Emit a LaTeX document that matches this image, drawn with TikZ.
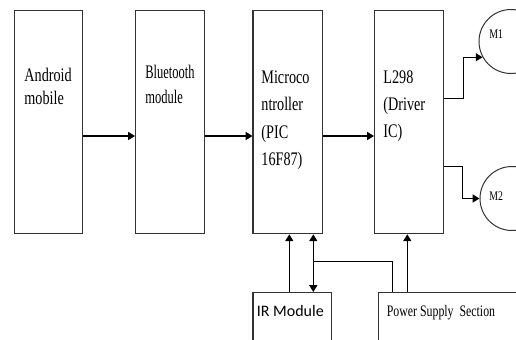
\documentclass[tikz,border=0pt]{standalone}
\usepackage{fontspec}
\setmainfont{Liberation Serif}[FakeStretch=0.74]
\newfontfamily\narrowfont{Liberation Serif}[FakeStretch=0.65]
\newfontfamily\irfont{Carlito}
\usetikzlibrary{arrows.meta,calc}

\begin{document}
\begin{tikzpicture}[x=0.5pt,y=-0.5pt,
  blockbox/.style={draw=black!80,line width=0.65pt,anchor=north west,inner sep=0pt,minimum height=111.5pt},
  blocktext/.style={anchor=north west,inner sep=0pt,align=left},
  motor/.style={draw=black!80,line width=0.5pt,circle,minimum size=32pt,inner sep=0pt},
  sigarrow/.style={line width=0.6pt,-{Triangle[length=3.4pt,width=4pt]}},
  bothways/.style={line width=0.6pt,{Triangle[length=3.4pt,width=4pt]}-{Triangle[length=3.4pt,width=4pt]}},
  wire/.style={line width=0.6pt}]
  \useasboundingbox (0,0) rectangle (516,339);
  \clip (0,0) rectangle (516,339);
  % blocks
  \node[blockbox,minimum width=34pt] (android) at (14,10) {};
  \node[blockbox,minimum width=34.5pt] (bluetooth) at (135,10) {};
  \node[blockbox,minimum width=34.75pt] (micro) at (252.5,10) {};
  \node[blockbox,minimum width=34.5pt] (l298) at (374,10) {};
  \node[blockbox,minimum width=39.25pt,minimum height=40pt] (ir) at (252.5,292) {};
  \node[blockbox,minimum width=80pt,minimum height=40pt] (power) at (378,292) {};
  \node[blocktext,font=\fontsize{9.6}{11.5}\selectfont] (android-t) at (24,68) {Android\\mobile};
  \node[blocktext,font=\narrowfont\fontsize{9.6}{12.5}\selectfont] (bluetooth-t) at (145,65) {Bluetooth\\module};
  \node[blocktext,font=\fontsize{9.6}{13.75}\selectfont] (micro-t) at (261,70) {Microco\\ntroller\\(PIC\\16F87)};
  \node[blocktext,font=\fontsize{9.6}{13.5}\selectfont] (l298-t) at (383,70) {L298\\(Driver\\IC)};
  \node[anchor=base west,inner sep=0pt,font=\irfont\fontsize{8}{10}\selectfont] (ir-t) at (256.5,316) {IR Module};
  \node[anchor=base west,inner sep=0pt,font=\fontsize{8}{10}\selectfont] (power-t) at (386.5,316) {Power Supply\ \ Section};
  % motors
  \node[motor] (m1) at (511,41.5) {};
  \node[motor] (m2) at (512,198.5) {};
  \node[anchor=base west,inner sep=0pt,font=\fontsize{6.6}{8}\selectfont] (m1-t) at (489,38) {M1};
  \node[anchor=base west,inner sep=0pt,font=\fontsize{6.6}{8}\selectfont] (m2-t) at (489,200) {M2};
  % signal path
  \coordinate (busline) at (0,136);
  \draw[sigarrow] (android.east |- busline) -- (bluetooth.west |- busline);
  \draw[sigarrow] (bluetooth.east |- busline) -- (micro.west |- busline);
  \draw[sigarrow] (micro.east |- busline) -- (l298.west |- busline);
  \draw[sigarrow] ($(l298.east)+(0,-23.8)$) -- ++(19,0) |- (m1.209);
  \draw[sigarrow] ($(l298.east)+(0,44.2)$) -- ++(18,0) |- (m2.west);
  % ir and supply
  \coordinate (irup) at (289.3,0);
  \coordinate (irbi) at (313.3,0);
  \coordinate (pwrfeed) at (392.7,261.7);
  \coordinate (pwrup) at (407.3,0);
  \draw[sigarrow] (ir.north -| irup) -- (micro.south -| irup);
  \draw[bothways] (ir.north -| irbi) -- (micro.south -| irbi);
  \draw[wire] (irbi |- pwrfeed) -- (pwrfeed) -- (power.north -| pwrfeed);
  \draw[sigarrow] (power.north -| pwrup) -- (l298.south -| pwrup);
\end{tikzpicture}
\end{document}
